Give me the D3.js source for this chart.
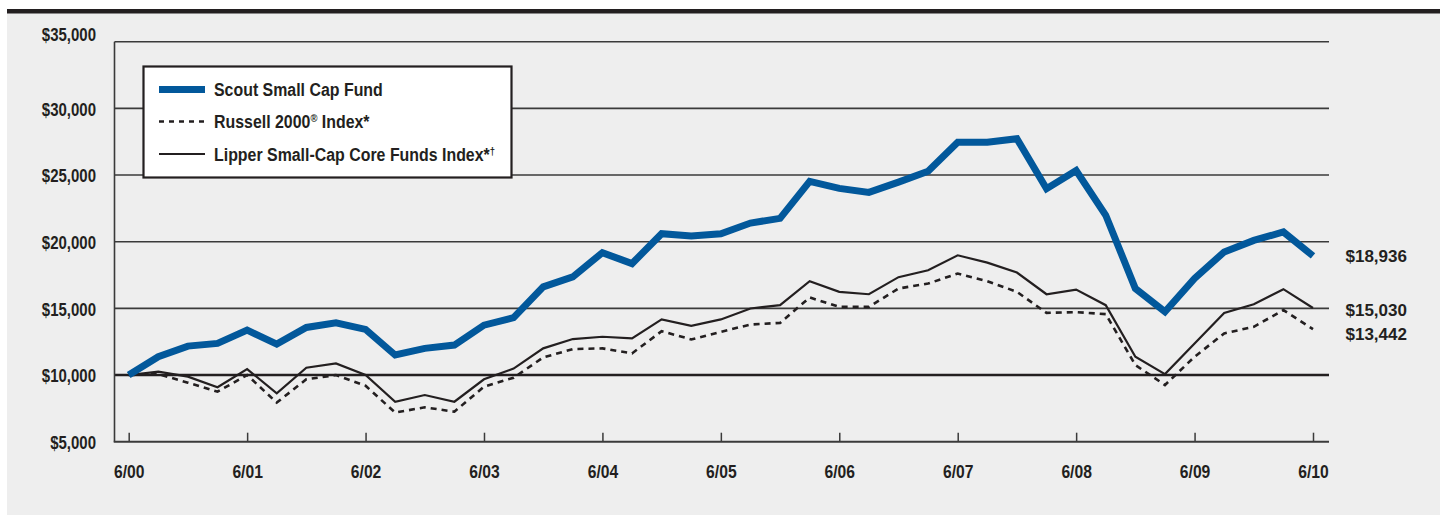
<!DOCTYPE html>
<html>
<head>
<meta charset="utf-8">
<script src="https://cdn.jsdelivr.net/npm/d3@7"></script>
<style>
  html, body { margin: 0; padding: 0; background: #ffffff; }
  svg { display: block; }
  text { font-family: "Liberation Sans", Arial, Helvetica, sans-serif; font-weight: bold; fill: #231f20; }
</style>
</head>
<body>
<svg id="chart" width="1440" height="515"></svg>
<script>
// ---- data (quarterly, 6/00 .. 6/10) ----
const yearLabels = ["6/00","6/01","6/02","6/03","6/04","6/05","6/06","6/07","6/08","6/09","6/10"];
const yTicks = [5000, 10000, 15000, 20000, 25000, 30000, 35000];
const scout = [10000, 11370, 12170, 12370, 13370, 12320, 13570, 13910, 13420, 11500,
               12000, 12250, 13740, 14300, 16610, 17360, 19180, 18360, 20600, 20430,
               20600, 21400, 21750, 24520, 24000, 23700, 24470, 25290, 27460, 27460,
               27720, 23970, 25340, 21980, 16490, 14740, 17240, 19230, 20100, 20730, 18936];
const russell = [10000, 10070, 9430, 8750, 10000, 7930, 9680, 10000, 9200, 7180,
                 7580, 7250, 9130, 9800, 11320, 11950, 12000, 11620, 13290, 12670,
                 13240, 13790, 13910, 15820, 15110, 15110, 16490, 16860, 17610, 17040,
                 16240, 14660, 14720, 14570, 10750, 9250, 11370, 13120, 13620, 14870, 13442];
const lipper = [10000, 10250, 9880, 9080, 10450, 8630, 10550, 10870, 10000, 8000,
                8500, 8000, 9680, 10480, 12000, 12700, 12870, 12750, 14170, 13690,
                14170, 14990, 15240, 17040, 16240, 16060, 17340, 17860, 18980, 18430,
                17690, 16060, 16410, 15240, 11370, 10070, 12370, 14660, 15310, 16440, 15030];
// legend names split into [main text, superscript, trailing text]
const seriesNames = [
  ["Scout Small Cap Fund", "", ""],
  ["Russell 2000", "\u00AE", " Index*"],
  ["Lipper Small-Cap Core Funds Index*", "\u2020", ""]
];
const endLabels = ["$18,936", "$15,030", "$13,442"];

(function () {
const BLUE = "#02589b";
const DARK = "#231f20";

const svg = d3.select("#chart");

// background panel + top rule
svg.append("rect").attr("x", 7).attr("y", 11).attr("width", 1433).attr("height", 504).attr("fill", "#eeeeee");
svg.append("rect").attr("x", 7).attr("y", 9).attr("width", 1433).attr("height", 4.5).attr("fill", "#231f20");

const pL = 114.5, pR = 1329, pT = 41.7, pB = 441.7;
const x = d3.scaleLinear().domain([0, 40]).range([128.7, 1313]);
const y = d3.scaleLinear().domain([5000, 35000]).range([pB, pT]);

// gridlines
svg.append("g").selectAll("line").data(yTicks.filter(d => d > 5000)).join("line")
  .attr("x1", pL).attr("x2", pR)
  .attr("y1", d => y(d)).attr("y2", d => y(d))
  .attr("stroke", d => d === 10000 ? "#231f20" : "#3a3a3a")
  .attr("stroke-width", d => d === 10000 ? 2.6 : 1.6);

// y axis labels
const yAxis = d3.axisLeft(y).tickValues(yTicks).tickSize(0).tickPadding(0)
  .tickFormat(d => "$" + d3.format(",")(d));
const gy = svg.append("g").attr("transform", `translate(96,0)`).call(yAxis);
gy.select(".domain").remove();
gy.selectAll("text").attr("font-size", 18.5).attr("fill", DARK)
  .attr("font-family", null)
  .attr("dy", "0.36em")
  .attr("y", d => d === 35000 ? -7.5 : 0)
  .attr("transform", "scale(0.81,1)");

// axes lines
svg.append("line").attr("x1", pL).attr("x2", pL).attr("y1", pT).attr("y2", pB)
  .attr("stroke", "#3a3a3a").attr("stroke-width", 1.6);
const xAxis = d3.axisBottom(x).tickValues(d3.range(0, 41, 4)).tickSize(-9).tickPadding(24)
  .tickFormat((d, i) => yearLabels[i]);
const gx = svg.append("g").attr("transform", `translate(0,${pB})`).call(xAxis);
gx.select(".domain").remove();
gx.selectAll(".tick line").attr("stroke", "#3a3a3a").attr("stroke-width", 1.5);
gx.selectAll("text").attr("font-size", 18).attr("fill", DARK).attr("font-family", null)
  .attr("transform", "scale(0.87,1)");
svg.append("line").attr("x1", pL - 0.8).attr("x2", pR).attr("y1", pB).attr("y2", pB)
  .attr("stroke", "#3a3a3a").attr("stroke-width", 2);

// lines
const line = d3.line().x((d, i) => x(i)).y(d => y(d));
svg.append("path").datum(lipper).attr("d", line).attr("fill", "none")
  .attr("stroke", DARK).attr("stroke-width", 2.2).attr("stroke-linejoin", "miter");
svg.append("path").datum(russell).attr("d", line).attr("fill", "none")
  .attr("stroke", DARK).attr("stroke-width", 2.6).attr("stroke-dasharray", "6,5");
svg.append("path").datum(scout).attr("d", line).attr("fill", "none")
  .attr("stroke", BLUE).attr("stroke-width", 7).attr("stroke-linejoin", "miter").attr("stroke-miterlimit", 4);

// end labels
const endVals = [scout[40], lipper[40], russell[40]];
const endNudge = [0, 2, 5];
svg.append("g").selectAll("text").data(endLabels).join("text")
  .attr("x", 1345.5).attr("y", (d, i) => y(endVals[i]) + endNudge[i] + 6.3)
  .attr("font-size", 17).text(d => d);

// legend
const lg = svg.append("g");
lg.append("rect").attr("x", 143.5).attr("y", 66.5).attr("width", 368).attr("height", 111)
  .attr("fill", "#ffffff").attr("stroke", DARK).attr("stroke-width", 2.2);
const legY = [89.5, 121.5, 154];
const legStyles = [
  { stroke: BLUE, w: 7, dash: null },
  { stroke: DARK, w: 2.4, dash: "5,5" },
  { stroke: DARK, w: 2.2, dash: null }
];
seriesNames.forEach((parts, i) => {
  lg.append("line").attr("x1", 159).attr("x2", 205).attr("y1", legY[i]).attr("y2", legY[i])
    .attr("stroke", legStyles[i].stroke).attr("stroke-width", legStyles[i].w)
    .attr("stroke-dasharray", legStyles[i].dash);
  const t = lg.append("text")
    .attr("transform", `translate(214,${legY[i] + 6.6}) scale(0.86,1)`)
    .attr("font-size", 18.5);
  t.append("tspan").text(parts[0]);
  if (parts[1]) t.append("tspan").attr("font-size", 11).attr("dy", -6).text(parts[1]);
  if (parts[2]) t.append("tspan").attr("dy", 6).text(parts[2]);
});
})();
</script>
</body>
</html>
